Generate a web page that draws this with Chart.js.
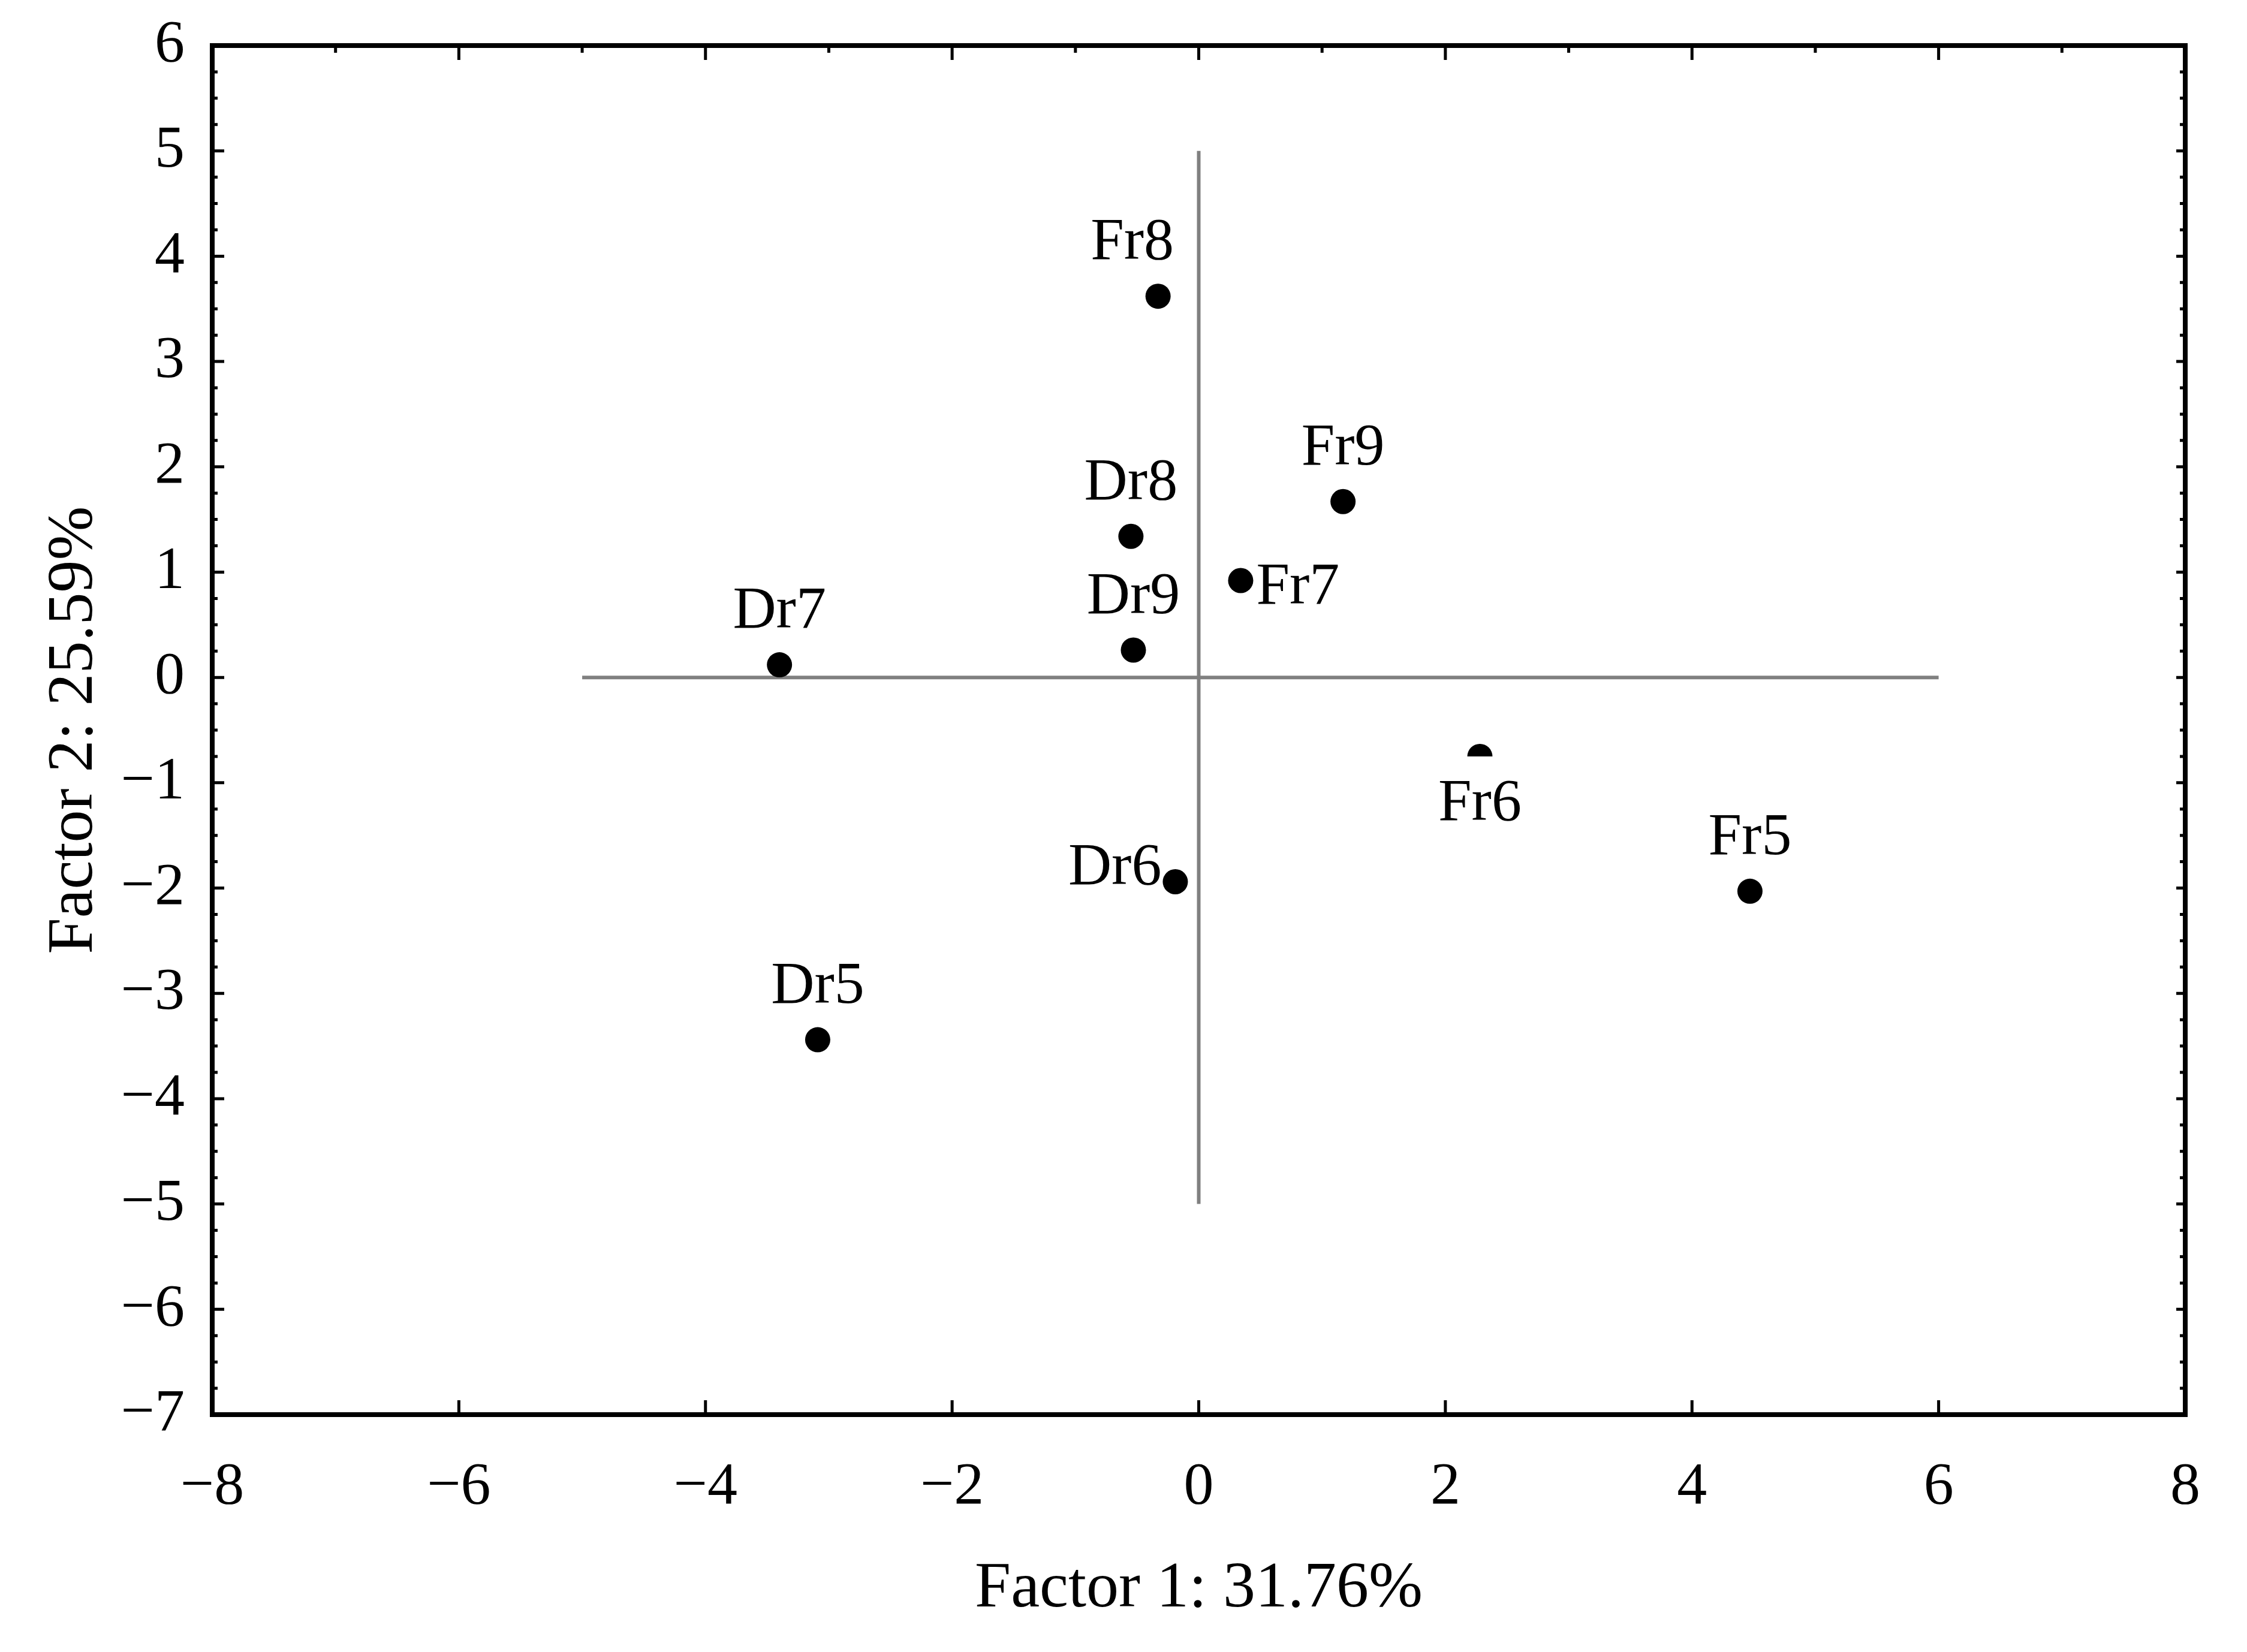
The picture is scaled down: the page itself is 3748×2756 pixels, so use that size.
<!DOCTYPE html>
<html>
<head>
<meta charset="utf-8">
<script src="https://cdn.jsdelivr.net/npm/chart.js@4.4.0/dist/chart.umd.min.js"></script>
<style>
  html, body { margin: 0; background: #fff; }
  canvas { display: block; }
</style>
</head>
<body>
<canvas id="pca" width="3748" height="2756"></canvas>
<script>
// sample scores on the first two factors
const samples = ['Fr8', 'Fr9', 'Dr8', 'Fr7', 'Dr9', 'Dr7', 'Fr6', 'Fr5', 'Dr6', 'Dr5'];
const factor1 = [-0.33, 1.17, -0.55, 0.34, -0.53, -3.40, 2.28, 4.47, -0.19, -3.09];
const factor2 = [3.62, 1.67, 1.34, 0.92, 0.26, 0.12, -0.75, -2.03, -1.94, -3.44];
// cross through the origin
const crossX = [-5, 6];
const crossY = [-5, 5];
// axes
const xRange = [-8, 8], xStep = 2;
const yRange = [-7, 6], yStep = 1;
const xTitle = 'Factor 1: 31.76%';
const yTitle = 'Factor 2: 25.59%';

// where each label sits relative to its point
const labelSide = ['aboveLeft', 'above', 'above', 'right', 'above', 'above', 'below', 'above', 'left', 'above'];

const FONT = '"Liberation Serif", "Times New Roman", serif';
const fmt = v => v < 0 ? '\u2212' + Math.abs(v) : String(v);

const pointLabels = {
  id: 'pointLabels',
  afterDatasetsDraw(chart) {
    const ctx = chart.ctx, meta = chart.getDatasetMeta(0);
    ctx.save();
    ctx.font = '100px ' + FONT;
    ctx.textBaseline = 'middle';
    ctx.textAlign = 'center';
    meta.data.forEach((pt, i) => {
      const txt = samples[i], w = ctx.measureText(txt).width, side = labelSide[i];
      let cx = pt.x, cy = pt.y - 88;
      if (side === 'aboveLeft') cx -= 43;
      if (side === 'below') cy = pt.y + 80;
      if (side === 'right') { cx = pt.x + 26 + w / 2; cy = pt.y + 12; }
      if (side === 'left') { cx = pt.x - 23 - w / 2; cy = pt.y - 22; }
      ctx.fillStyle = '#fff';
      ctx.fillRect(cx - w / 2, cy - 80, w, 126);
      ctx.fillStyle = '#000';
      ctx.fillText(txt, cx, cy);
    });
    ctx.restore();
  }
};

const frame = {
  id: 'frame',
  afterDraw(chart) {
    const { ctx, chartArea: a, scales: { x, y } } = chart;
    ctx.save();
    ctx.strokeStyle = '#000';
    ctx.lineWidth = 5;
    ctx.beginPath();
    for (let v = yRange[0]; v <= yRange[1] + 1e-9; v += 0.25) {
      const py = y.getPixelForValue(v);
      const major = Math.abs(v - Math.round(v)) < 1e-9;
      ctx.moveTo(a.left, py); ctx.lineTo(a.left + (major ? 20 : 9), py);
      ctx.moveTo(a.right, py); ctx.lineTo(a.right - (major ? 15 : 9), py);
    }
    for (let v = xRange[0]; v <= xRange[1]; v += 1) {
      const px = x.getPixelForValue(v);
      const even = v % 2 === 0;
      ctx.moveTo(px, a.top); ctx.lineTo(px, a.top + (even ? 24 : 12));
      if (even) { ctx.moveTo(px, a.bottom); ctx.lineTo(px, a.bottom - 24); }
    }
    ctx.stroke();
    ctx.lineWidth = 8;
    ctx.strokeRect(a.left, a.top, a.right - a.left, a.bottom - a.top);
    ctx.restore();
  }
};

const pts = factor1.map((v, i) => ({ x: v, y: factor2[i] }));
const hLine = crossX.map(v => ({ x: v, y: 0 }));
const vLine = crossY.map(v => ({ x: 0, y: v }));
const lineStyle = { showLine: true, borderColor: '#808080', borderWidth: 6, pointRadius: 0, fill: false };

new Chart(document.getElementById('pca').getContext('2d'), {
  type: 'scatter',
  data: {
    datasets: [
      { data: pts, backgroundColor: '#000', borderWidth: 0, pointRadius: 21, order: 0 },
      Object.assign({ data: hLine, order: 1 }, lineStyle),
      Object.assign({ data: vLine, order: 1 }, lineStyle)
    ]
  },
  options: {
    responsive: false,
    animation: false,
    layout: { padding: { left: 0, right: 103, top: 76, bottom: 0 } },
    plugins: { legend: { display: false }, tooltip: { enabled: false } },
    scales: {
      x: {
        type: 'linear', min: xRange[0], max: xRange[1],
        afterFit: s => { s.height = 396; s.paddingLeft = 0; s.paddingRight = 0; },
        grid: { display: false }, border: { display: false },
        ticks: { stepSize: xStep, padding: 54, color: '#000', font: { family: FONT, size: 100 }, callback: fmt, maxRotation: 0 },
        title: { display: true, text: xTitle, color: '#000', font: { family: FONT, size: 108 }, padding: { bottom: 40 } }
      },
      y: {
        type: 'linear', min: yRange[0], max: yRange[1],
        afterFit: s => { s.width = 354; s.paddingTop = 0; s.paddingBottom = 0; },
        grid: { display: false }, border: { display: false },
        ticks: { stepSize: yStep, padding: 38, color: '#000', font: { family: FONT, size: 100 }, callback: fmt },
        title: { display: true, text: yTitle, color: '#000', font: { family: FONT, size: 108 }, padding: { top: 60 } }
      }
    }
  },
  plugins: [pointLabels, frame]
});
</script>
</body>
</html>
